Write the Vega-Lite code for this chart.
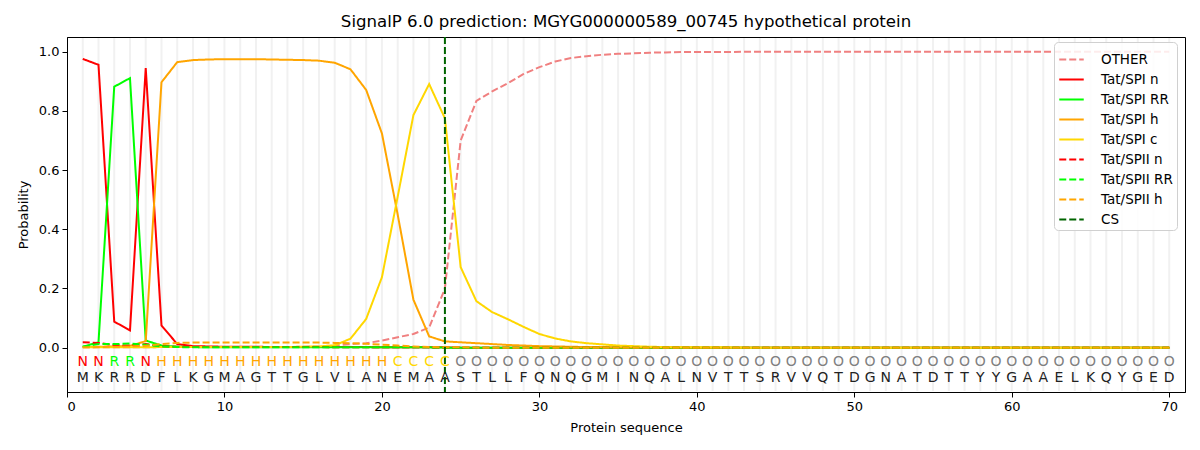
{
  "$schema": "https://vega.github.io/schema/vega-lite/v6.json",
  "title": {
    "text": "SignalP 6.0 prediction: MGYG000000589_00745 hypothetical protein",
    "font": "DejaVu Sans",
    "fontSize": 16.6,
    "fontWeight": "normal",
    "color": "black",
    "offset": 5
  },
  "width": 1118,
  "height": 355,
  "autosize": {"type": "none"},
  "padding": {"left": 67, "top": 37, "right": 15, "bottom": 58},
  "datasets": {
    "sequence": [
      {"pos": 1, "aa": "M", "label": "N"}, {"pos": 2, "aa": "K", "label": "N"},
      {"pos": 3, "aa": "R", "label": "R"}, {"pos": 4, "aa": "R", "label": "R"},
      {"pos": 5, "aa": "D", "label": "N"}, {"pos": 6, "aa": "F", "label": "H"},
      {"pos": 7, "aa": "L", "label": "H"}, {"pos": 8, "aa": "K", "label": "H"},
      {"pos": 9, "aa": "G", "label": "H"}, {"pos": 10, "aa": "M", "label": "H"},
      {"pos": 11, "aa": "A", "label": "H"}, {"pos": 12, "aa": "G", "label": "H"},
      {"pos": 13, "aa": "T", "label": "H"}, {"pos": 14, "aa": "T", "label": "H"},
      {"pos": 15, "aa": "G", "label": "H"}, {"pos": 16, "aa": "L", "label": "H"},
      {"pos": 17, "aa": "V", "label": "H"}, {"pos": 18, "aa": "L", "label": "H"},
      {"pos": 19, "aa": "A", "label": "H"}, {"pos": 20, "aa": "N", "label": "H"},
      {"pos": 21, "aa": "E", "label": "C"}, {"pos": 22, "aa": "M", "label": "C"},
      {"pos": 23, "aa": "A", "label": "C"}, {"pos": 24, "aa": "A", "label": "C"},
      {"pos": 25, "aa": "S", "label": "O"}, {"pos": 26, "aa": "T", "label": "O"},
      {"pos": 27, "aa": "L", "label": "O"}, {"pos": 28, "aa": "L", "label": "O"},
      {"pos": 29, "aa": "F", "label": "O"}, {"pos": 30, "aa": "Q", "label": "O"},
      {"pos": 31, "aa": "N", "label": "O"}, {"pos": 32, "aa": "Q", "label": "O"},
      {"pos": 33, "aa": "G", "label": "O"}, {"pos": 34, "aa": "M", "label": "O"},
      {"pos": 35, "aa": "I", "label": "O"}, {"pos": 36, "aa": "N", "label": "O"},
      {"pos": 37, "aa": "Q", "label": "O"}, {"pos": 38, "aa": "A", "label": "O"},
      {"pos": 39, "aa": "L", "label": "O"}, {"pos": 40, "aa": "N", "label": "O"},
      {"pos": 41, "aa": "V", "label": "O"}, {"pos": 42, "aa": "T", "label": "O"},
      {"pos": 43, "aa": "T", "label": "O"}, {"pos": 44, "aa": "S", "label": "O"},
      {"pos": 45, "aa": "R", "label": "O"}, {"pos": 46, "aa": "V", "label": "O"},
      {"pos": 47, "aa": "V", "label": "O"}, {"pos": 48, "aa": "Q", "label": "O"},
      {"pos": 49, "aa": "T", "label": "O"}, {"pos": 50, "aa": "D", "label": "O"},
      {"pos": 51, "aa": "G", "label": "O"}, {"pos": 52, "aa": "N", "label": "O"},
      {"pos": 53, "aa": "A", "label": "O"}, {"pos": 54, "aa": "T", "label": "O"},
      {"pos": 55, "aa": "D", "label": "O"}, {"pos": 56, "aa": "T", "label": "O"},
      {"pos": 57, "aa": "T", "label": "O"}, {"pos": 58, "aa": "Y", "label": "O"},
      {"pos": 59, "aa": "Y", "label": "O"}, {"pos": 60, "aa": "G", "label": "O"},
      {"pos": 61, "aa": "A", "label": "O"}, {"pos": 62, "aa": "A", "label": "O"},
      {"pos": 63, "aa": "E", "label": "O"}, {"pos": 64, "aa": "L", "label": "O"},
      {"pos": 65, "aa": "K", "label": "O"}, {"pos": 66, "aa": "Q", "label": "O"},
      {"pos": 67, "aa": "Y", "label": "O"}, {"pos": 68, "aa": "G", "label": "O"},
      {"pos": 69, "aa": "E", "label": "O"}, {"pos": 70, "aa": "D", "label": "O"}
    ],
    "probs": [
      {"pos": 1, "OTHER": 0.001, "Tat/SPI n": 0.976, "Tat/SPI RR": 0.003, "Tat/SPI h": 0.002, "Tat/SPI c": 0.001, "Tat/SPII n": 0.018, "Tat/SPII RR": 0.003, "Tat/SPII h": 0.001},
      {"pos": 2, "OTHER": 0.001, "Tat/SPI n": 0.956, "Tat/SPI RR": 0.018, "Tat/SPI h": 0.003, "Tat/SPI c": 0.001, "Tat/SPII n": 0.016, "Tat/SPII RR": 0.012, "Tat/SPII h": 0.002},
      {"pos": 3, "OTHER": 0.001, "Tat/SPI n": 0.088, "Tat/SPI RR": 0.882, "Tat/SPI h": 0.004, "Tat/SPI c": 0.001, "Tat/SPII n": 0.008, "Tat/SPII RR": 0.012, "Tat/SPII h": 0.003},
      {"pos": 4, "OTHER": 0.001, "Tat/SPI n": 0.058, "Tat/SPI RR": 0.911, "Tat/SPI h": 0.006, "Tat/SPI c": 0.001, "Tat/SPII n": 0.007, "Tat/SPII RR": 0.014, "Tat/SPII h": 0.004},
      {"pos": 5, "OTHER": 0.001, "Tat/SPI n": 0.945, "Tat/SPI RR": 0.024, "Tat/SPI h": 0.022, "Tat/SPI c": 0.001, "Tat/SPII n": 0.012, "Tat/SPII RR": 0.010, "Tat/SPII h": 0.006},
      {"pos": 6, "OTHER": 0.002, "Tat/SPI n": 0.075, "Tat/SPI RR": 0.007, "Tat/SPI h": 0.897, "Tat/SPI c": 0.002, "Tat/SPII n": 0.005, "Tat/SPII RR": 0.004, "Tat/SPII h": 0.012},
      {"pos": 7, "OTHER": 0.002, "Tat/SPI n": 0.012, "Tat/SPI RR": 0.003, "Tat/SPI h": 0.965, "Tat/SPI c": 0.002, "Tat/SPII n": 0.003, "Tat/SPII RR": 0.002, "Tat/SPII h": 0.016},
      {"pos": 8, "OTHER": 0.002, "Tat/SPI n": 0.005, "Tat/SPI RR": 0.002, "Tat/SPI h": 0.972, "Tat/SPI c": 0.002, "Tat/SPII n": 0.002, "Tat/SPII RR": 0.001, "Tat/SPII h": 0.017},
      {"pos": 9, "OTHER": 0.002, "Tat/SPI n": 0.004, "Tat/SPI RR": 0.001, "Tat/SPI h": 0.974, "Tat/SPI c": 0.002, "Tat/SPII n": 0.002, "Tat/SPII RR": 0.001, "Tat/SPII h": 0.017},
      {"pos": 10, "OTHER": 0.002, "Tat/SPI n": 0.003, "Tat/SPI RR": 0.001, "Tat/SPI h": 0.975, "Tat/SPI c": 0.002, "Tat/SPII n": 0.002, "Tat/SPII RR": 0.001, "Tat/SPII h": 0.017},
      {"pos": 11, "OTHER": 0.002, "Tat/SPI n": 0.003, "Tat/SPI RR": 0.001, "Tat/SPI h": 0.975, "Tat/SPI c": 0.002, "Tat/SPII n": 0.002, "Tat/SPII RR": 0.001, "Tat/SPII h": 0.017},
      {"pos": 12, "OTHER": 0.002, "Tat/SPI n": 0.003, "Tat/SPI RR": 0.001, "Tat/SPI h": 0.975, "Tat/SPI c": 0.002, "Tat/SPII n": 0.002, "Tat/SPII RR": 0.001, "Tat/SPII h": 0.017},
      {"pos": 13, "OTHER": 0.002, "Tat/SPI n": 0.002, "Tat/SPI RR": 0.001, "Tat/SPI h": 0.974, "Tat/SPI c": 0.002, "Tat/SPII n": 0.002, "Tat/SPII RR": 0.001, "Tat/SPII h": 0.017},
      {"pos": 14, "OTHER": 0.002, "Tat/SPI n": 0.002, "Tat/SPI RR": 0.001, "Tat/SPI h": 0.973, "Tat/SPI c": 0.002, "Tat/SPII n": 0.002, "Tat/SPII RR": 0.001, "Tat/SPII h": 0.017},
      {"pos": 15, "OTHER": 0.003, "Tat/SPI n": 0.002, "Tat/SPI RR": 0.001, "Tat/SPI h": 0.972, "Tat/SPI c": 0.003, "Tat/SPII n": 0.002, "Tat/SPII RR": 0.001, "Tat/SPII h": 0.017},
      {"pos": 16, "OTHER": 0.004, "Tat/SPI n": 0.002, "Tat/SPI RR": 0.001, "Tat/SPI h": 0.970, "Tat/SPI c": 0.004, "Tat/SPII n": 0.002, "Tat/SPII RR": 0.001, "Tat/SPII h": 0.017},
      {"pos": 17, "OTHER": 0.007, "Tat/SPI n": 0.002, "Tat/SPI RR": 0.001, "Tat/SPI h": 0.963, "Tat/SPI c": 0.008, "Tat/SPII n": 0.001, "Tat/SPII RR": 0.001, "Tat/SPII h": 0.016},
      {"pos": 18, "OTHER": 0.012, "Tat/SPI n": 0.002, "Tat/SPI RR": 0.001, "Tat/SPI h": 0.941, "Tat/SPI c": 0.030, "Tat/SPII n": 0.001, "Tat/SPII RR": 0.001, "Tat/SPII h": 0.015},
      {"pos": 19, "OTHER": 0.015, "Tat/SPI n": 0.002, "Tat/SPI RR": 0.001, "Tat/SPI h": 0.871, "Tat/SPI c": 0.097, "Tat/SPII n": 0.001, "Tat/SPII RR": 0.001, "Tat/SPII h": 0.013},
      {"pos": 20, "OTHER": 0.024, "Tat/SPI n": 0.001, "Tat/SPI RR": 0.001, "Tat/SPI h": 0.724, "Tat/SPI c": 0.238, "Tat/SPII n": 0.001, "Tat/SPII RR": 0.001, "Tat/SPII h": 0.010},
      {"pos": 21, "OTHER": 0.035, "Tat/SPI n": 0.001, "Tat/SPI RR": 0.001, "Tat/SPI h": 0.450, "Tat/SPI c": 0.510, "Tat/SPII n": 0.001, "Tat/SPII RR": 0.001, "Tat/SPII h": 0.007},
      {"pos": 22, "OTHER": 0.046, "Tat/SPI n": 0.001, "Tat/SPI RR": 0.001, "Tat/SPI h": 0.162, "Tat/SPI c": 0.786, "Tat/SPII n": 0.001, "Tat/SPII RR": 0.001, "Tat/SPII h": 0.004},
      {"pos": 23, "OTHER": 0.068, "Tat/SPI n": 0.001, "Tat/SPI RR": 0.001, "Tat/SPI h": 0.038, "Tat/SPI c": 0.891, "Tat/SPII n": 0.001, "Tat/SPII RR": 0.001, "Tat/SPII h": 0.002},
      {"pos": 24, "OTHER": 0.200, "Tat/SPI n": 0.001, "Tat/SPI RR": 0.0, "Tat/SPI h": 0.021, "Tat/SPI c": 0.775, "Tat/SPII n": 0.0, "Tat/SPII RR": 0.0, "Tat/SPII h": 0.001},
      {"pos": 25, "OTHER": 0.700, "Tat/SPI n": 0.0, "Tat/SPI RR": 0.0, "Tat/SPI h": 0.018, "Tat/SPI c": 0.272, "Tat/SPII n": 0.0, "Tat/SPII RR": 0.0, "Tat/SPII h": 0.001},
      {"pos": 26, "OTHER": 0.834, "Tat/SPI n": 0.0, "Tat/SPI RR": 0.0, "Tat/SPI h": 0.015, "Tat/SPI c": 0.157, "Tat/SPII n": 0.0, "Tat/SPII RR": 0.0, "Tat/SPII h": 0.0},
      {"pos": 27, "OTHER": 0.866, "Tat/SPI n": 0.0, "Tat/SPI RR": 0.0, "Tat/SPI h": 0.012, "Tat/SPI c": 0.120, "Tat/SPII n": 0.0, "Tat/SPII RR": 0.0, "Tat/SPII h": 0.0},
      {"pos": 28, "OTHER": 0.894, "Tat/SPI n": 0.0, "Tat/SPI RR": 0.0, "Tat/SPI h": 0.009, "Tat/SPI c": 0.096, "Tat/SPII n": 0.0, "Tat/SPII RR": 0.0, "Tat/SPII h": 0.0},
      {"pos": 29, "OTHER": 0.925, "Tat/SPI n": 0.0, "Tat/SPI RR": 0.0, "Tat/SPI h": 0.007, "Tat/SPI c": 0.070, "Tat/SPII n": 0.0, "Tat/SPII RR": 0.0, "Tat/SPII h": 0.0},
      {"pos": 30, "OTHER": 0.948, "Tat/SPI n": 0.0, "Tat/SPI RR": 0.0, "Tat/SPI h": 0.005, "Tat/SPI c": 0.046, "Tat/SPII n": 0.0, "Tat/SPII RR": 0.0, "Tat/SPII h": 0.0},
      {"pos": 31, "OTHER": 0.967, "Tat/SPI n": 0.0, "Tat/SPI RR": 0.0, "Tat/SPI h": 0.004, "Tat/SPI c": 0.031, "Tat/SPII n": 0.0, "Tat/SPII RR": 0.0, "Tat/SPII h": 0.0},
      {"pos": 32, "OTHER": 0.979, "Tat/SPI n": 0.0, "Tat/SPI RR": 0.0, "Tat/SPI h": 0.003, "Tat/SPI c": 0.021, "Tat/SPII n": 0.0, "Tat/SPII RR": 0.0, "Tat/SPII h": 0.0},
      {"pos": 33, "OTHER": 0.985, "Tat/SPI n": 0.0, "Tat/SPI RR": 0.0, "Tat/SPI h": 0.002, "Tat/SPI c": 0.015, "Tat/SPII n": 0.0, "Tat/SPII RR": 0.0, "Tat/SPII h": 0.0},
      {"pos": 34, "OTHER": 0.990, "Tat/SPI n": 0.0, "Tat/SPI RR": 0.0, "Tat/SPI h": 0.002, "Tat/SPI c": 0.011, "Tat/SPII n": 0.0, "Tat/SPII RR": 0.0, "Tat/SPII h": 0.0},
      {"pos": 35, "OTHER": 0.993, "Tat/SPI n": 0.0, "Tat/SPI RR": 0.0, "Tat/SPI h": 0.001, "Tat/SPI c": 0.007, "Tat/SPII n": 0.0, "Tat/SPII RR": 0.0, "Tat/SPII h": 0.0},
      {"pos": 36, "OTHER": 0.995, "Tat/SPI n": 0.0, "Tat/SPI RR": 0.0, "Tat/SPI h": 0.001, "Tat/SPI c": 0.005, "Tat/SPII n": 0.0, "Tat/SPII RR": 0.0, "Tat/SPII h": 0.0},
      {"pos": 37, "OTHER": 0.997, "Tat/SPI n": 0.0, "Tat/SPI RR": 0.0, "Tat/SPI h": 0.001, "Tat/SPI c": 0.003, "Tat/SPII n": 0.0, "Tat/SPII RR": 0.0, "Tat/SPII h": 0.0},
      {"pos": 38, "OTHER": 0.998, "Tat/SPI n": 0.0, "Tat/SPI RR": 0.0, "Tat/SPI h": 0.001, "Tat/SPI c": 0.002, "Tat/SPII n": 0.0, "Tat/SPII RR": 0.0, "Tat/SPII h": 0.0},
      {"pos": 39, "OTHER": 0.999, "Tat/SPI n": 0.0, "Tat/SPI RR": 0.0, "Tat/SPI h": 0.001, "Tat/SPI c": 0.001, "Tat/SPII n": 0.0, "Tat/SPII RR": 0.0, "Tat/SPII h": 0.0},
      {"pos": 40, "OTHER": 0.999, "Tat/SPI n": 0.0, "Tat/SPI RR": 0.0, "Tat/SPI h": 0.0, "Tat/SPI c": 0.001, "Tat/SPII n": 0.0, "Tat/SPII RR": 0.0, "Tat/SPII h": 0.0},
      {"pos": 41, "OTHER": 0.999, "Tat/SPI n": 0.0, "Tat/SPI RR": 0.0, "Tat/SPI h": 0.0, "Tat/SPI c": 0.001, "Tat/SPII n": 0.0, "Tat/SPII RR": 0.0, "Tat/SPII h": 0.0},
      {"pos": 42, "OTHER": 0.999, "Tat/SPI n": 0.0, "Tat/SPI RR": 0.0, "Tat/SPI h": 0.0, "Tat/SPI c": 0.001, "Tat/SPII n": 0.0, "Tat/SPII RR": 0.0, "Tat/SPII h": 0.0},
      {"pos": 43, "OTHER": 1.0, "Tat/SPI n": 0.0, "Tat/SPI RR": 0.0, "Tat/SPI h": 0.0, "Tat/SPI c": 0.0, "Tat/SPII n": 0.0, "Tat/SPII RR": 0.0, "Tat/SPII h": 0.0},
      {"pos": 44, "OTHER": 1.0, "Tat/SPI n": 0.0, "Tat/SPI RR": 0.0, "Tat/SPI h": 0.0, "Tat/SPI c": 0.0, "Tat/SPII n": 0.0, "Tat/SPII RR": 0.0, "Tat/SPII h": 0.0},
      {"pos": 45, "OTHER": 1.0, "Tat/SPI n": 0.0, "Tat/SPI RR": 0.0, "Tat/SPI h": 0.0, "Tat/SPI c": 0.0, "Tat/SPII n": 0.0, "Tat/SPII RR": 0.0, "Tat/SPII h": 0.0},
      {"pos": 46, "OTHER": 1.0, "Tat/SPI n": 0.0, "Tat/SPI RR": 0.0, "Tat/SPI h": 0.0, "Tat/SPI c": 0.0, "Tat/SPII n": 0.0, "Tat/SPII RR": 0.0, "Tat/SPII h": 0.0},
      {"pos": 47, "OTHER": 1.0, "Tat/SPI n": 0.0, "Tat/SPI RR": 0.0, "Tat/SPI h": 0.0, "Tat/SPI c": 0.0, "Tat/SPII n": 0.0, "Tat/SPII RR": 0.0, "Tat/SPII h": 0.0},
      {"pos": 48, "OTHER": 1.0, "Tat/SPI n": 0.0, "Tat/SPI RR": 0.0, "Tat/SPI h": 0.0, "Tat/SPI c": 0.0, "Tat/SPII n": 0.0, "Tat/SPII RR": 0.0, "Tat/SPII h": 0.0},
      {"pos": 49, "OTHER": 1.0, "Tat/SPI n": 0.0, "Tat/SPI RR": 0.0, "Tat/SPI h": 0.0, "Tat/SPI c": 0.0, "Tat/SPII n": 0.0, "Tat/SPII RR": 0.0, "Tat/SPII h": 0.0},
      {"pos": 50, "OTHER": 1.0, "Tat/SPI n": 0.0, "Tat/SPI RR": 0.0, "Tat/SPI h": 0.0, "Tat/SPI c": 0.0, "Tat/SPII n": 0.0, "Tat/SPII RR": 0.0, "Tat/SPII h": 0.0},
      {"pos": 51, "OTHER": 1.0, "Tat/SPI n": 0.0, "Tat/SPI RR": 0.0, "Tat/SPI h": 0.0, "Tat/SPI c": 0.0, "Tat/SPII n": 0.0, "Tat/SPII RR": 0.0, "Tat/SPII h": 0.0},
      {"pos": 52, "OTHER": 1.0, "Tat/SPI n": 0.0, "Tat/SPI RR": 0.0, "Tat/SPI h": 0.0, "Tat/SPI c": 0.0, "Tat/SPII n": 0.0, "Tat/SPII RR": 0.0, "Tat/SPII h": 0.0},
      {"pos": 53, "OTHER": 1.0, "Tat/SPI n": 0.0, "Tat/SPI RR": 0.0, "Tat/SPI h": 0.0, "Tat/SPI c": 0.0, "Tat/SPII n": 0.0, "Tat/SPII RR": 0.0, "Tat/SPII h": 0.0},
      {"pos": 54, "OTHER": 1.0, "Tat/SPI n": 0.0, "Tat/SPI RR": 0.0, "Tat/SPI h": 0.0, "Tat/SPI c": 0.0, "Tat/SPII n": 0.0, "Tat/SPII RR": 0.0, "Tat/SPII h": 0.0},
      {"pos": 55, "OTHER": 1.0, "Tat/SPI n": 0.0, "Tat/SPI RR": 0.0, "Tat/SPI h": 0.0, "Tat/SPI c": 0.0, "Tat/SPII n": 0.0, "Tat/SPII RR": 0.0, "Tat/SPII h": 0.0},
      {"pos": 56, "OTHER": 1.0, "Tat/SPI n": 0.0, "Tat/SPI RR": 0.0, "Tat/SPI h": 0.0, "Tat/SPI c": 0.0, "Tat/SPII n": 0.0, "Tat/SPII RR": 0.0, "Tat/SPII h": 0.0},
      {"pos": 57, "OTHER": 1.0, "Tat/SPI n": 0.0, "Tat/SPI RR": 0.0, "Tat/SPI h": 0.0, "Tat/SPI c": 0.0, "Tat/SPII n": 0.0, "Tat/SPII RR": 0.0, "Tat/SPII h": 0.0},
      {"pos": 58, "OTHER": 1.0, "Tat/SPI n": 0.0, "Tat/SPI RR": 0.0, "Tat/SPI h": 0.0, "Tat/SPI c": 0.0, "Tat/SPII n": 0.0, "Tat/SPII RR": 0.0, "Tat/SPII h": 0.0},
      {"pos": 59, "OTHER": 1.0, "Tat/SPI n": 0.0, "Tat/SPI RR": 0.0, "Tat/SPI h": 0.0, "Tat/SPI c": 0.0, "Tat/SPII n": 0.0, "Tat/SPII RR": 0.0, "Tat/SPII h": 0.0},
      {"pos": 60, "OTHER": 1.0, "Tat/SPI n": 0.0, "Tat/SPI RR": 0.0, "Tat/SPI h": 0.0, "Tat/SPI c": 0.0, "Tat/SPII n": 0.0, "Tat/SPII RR": 0.0, "Tat/SPII h": 0.0},
      {"pos": 61, "OTHER": 1.0, "Tat/SPI n": 0.0, "Tat/SPI RR": 0.0, "Tat/SPI h": 0.0, "Tat/SPI c": 0.0, "Tat/SPII n": 0.0, "Tat/SPII RR": 0.0, "Tat/SPII h": 0.0},
      {"pos": 62, "OTHER": 1.0, "Tat/SPI n": 0.0, "Tat/SPI RR": 0.0, "Tat/SPI h": 0.0, "Tat/SPI c": 0.0, "Tat/SPII n": 0.0, "Tat/SPII RR": 0.0, "Tat/SPII h": 0.0},
      {"pos": 63, "OTHER": 1.0, "Tat/SPI n": 0.0, "Tat/SPI RR": 0.0, "Tat/SPI h": 0.0, "Tat/SPI c": 0.0, "Tat/SPII n": 0.0, "Tat/SPII RR": 0.0, "Tat/SPII h": 0.0},
      {"pos": 64, "OTHER": 1.0, "Tat/SPI n": 0.0, "Tat/SPI RR": 0.0, "Tat/SPI h": 0.0, "Tat/SPI c": 0.0, "Tat/SPII n": 0.0, "Tat/SPII RR": 0.0, "Tat/SPII h": 0.0},
      {"pos": 65, "OTHER": 1.0, "Tat/SPI n": 0.0, "Tat/SPI RR": 0.0, "Tat/SPI h": 0.0, "Tat/SPI c": 0.0, "Tat/SPII n": 0.0, "Tat/SPII RR": 0.0, "Tat/SPII h": 0.0},
      {"pos": 66, "OTHER": 1.0, "Tat/SPI n": 0.0, "Tat/SPI RR": 0.0, "Tat/SPI h": 0.0, "Tat/SPI c": 0.0, "Tat/SPII n": 0.0, "Tat/SPII RR": 0.0, "Tat/SPII h": 0.0},
      {"pos": 67, "OTHER": 1.0, "Tat/SPI n": 0.0, "Tat/SPI RR": 0.0, "Tat/SPI h": 0.0, "Tat/SPI c": 0.0, "Tat/SPII n": 0.0, "Tat/SPII RR": 0.0, "Tat/SPII h": 0.0},
      {"pos": 68, "OTHER": 1.0, "Tat/SPI n": 0.0, "Tat/SPI RR": 0.0, "Tat/SPI h": 0.0, "Tat/SPI c": 0.0, "Tat/SPII n": 0.0, "Tat/SPII RR": 0.0, "Tat/SPII h": 0.0},
      {"pos": 69, "OTHER": 1.0, "Tat/SPI n": 0.0, "Tat/SPI RR": 0.0, "Tat/SPI h": 0.0, "Tat/SPI c": 0.0, "Tat/SPII n": 0.0, "Tat/SPII RR": 0.0, "Tat/SPII h": 0.0},
      {"pos": 70, "OTHER": 1.0, "Tat/SPI n": 0.0, "Tat/SPI RR": 0.0, "Tat/SPI h": 0.0, "Tat/SPI c": 0.0, "Tat/SPII n": 0.0, "Tat/SPII RR": 0.0, "Tat/SPII h": 0.0}
    ],
    "cleavage": [{"pos": 24, "series": "CS"}]
  },
  "layer": [
    {
      "data": {"name": "sequence"},
      "mark": {"type": "rule", "color": "#f1f1f1", "strokeWidth": 2},
      "encoding": {
        "x": {"field": "pos", "type": "quantitative"},
        "y": {"datum": 1.047},
        "y2": {"datum": -0.147}
      }
    },
    {
      "data": {"name": "probs"},
      "transform": [
        {"fold": ["OTHER", "Tat/SPI n", "Tat/SPI RR", "Tat/SPI h", "Tat/SPI c", "Tat/SPII n", "Tat/SPII RR", "Tat/SPII h"], "as": ["series", "p"]}
      ],
      "mark": {"type": "line", "strokeWidth": 2, "clip": true},
      "encoding": {
        "x": {"field": "pos", "type": "quantitative"},
        "y": {"field": "p", "type": "quantitative"},
        "color": {
          "field": "series",
          "type": "nominal",
          "scale": {
            "domain": ["OTHER", "Tat/SPI n", "Tat/SPI RR", "Tat/SPI h", "Tat/SPI c", "Tat/SPII n", "Tat/SPII RR", "Tat/SPII h", "CS"],
            "range": ["#f08080", "#ff0000", "#00ff00", "#ffa500", "#ffd700", "#ff0000", "#00ff00", "#ffa500", "#006400"]
          },
          "legend": {"title": null}
        },
        "strokeDash": {
          "field": "series",
          "type": "nominal",
          "scale": {
            "domain": ["OTHER", "Tat/SPI n", "Tat/SPI RR", "Tat/SPI h", "Tat/SPI c", "Tat/SPII n", "Tat/SPII RR", "Tat/SPII h", "CS"],
            "range": [[7, 3], [1, 0], [1, 0], [1, 0], [1, 0], [7, 3], [7, 3], [7, 3], [7, 3]]
          },
          "legend": {"title": null}
        }
      }
    },
    {
      "data": {"name": "cleavage"},
      "mark": {"type": "rule", "strokeWidth": 2},
      "encoding": {
        "x": {"field": "pos", "type": "quantitative"},
        "color": {"field": "series", "type": "nominal"},
        "strokeDash": {"field": "series", "type": "nominal"}
      }
    },
    {
      "data": {"name": "sequence"},
      "transform": [{"filter": "datum.label === 'N'"}],
      "mark": {"type": "text", "fontSize": 14, "font": "DejaVu Sans", "baseline": "middle", "color": "#ff0000"},
      "encoding": {"x": {"field": "pos", "type": "quantitative"}, "y": {"datum": -0.047}, "text": {"field": "label"}}
    },
    {
      "data": {"name": "sequence"},
      "transform": [{"filter": "datum.label === 'R'"}],
      "mark": {"type": "text", "fontSize": 14, "font": "DejaVu Sans", "baseline": "middle", "color": "#00ff00"},
      "encoding": {"x": {"field": "pos", "type": "quantitative"}, "y": {"datum": -0.047}, "text": {"field": "label"}}
    },
    {
      "data": {"name": "sequence"},
      "transform": [{"filter": "datum.label === 'H'"}],
      "mark": {"type": "text", "fontSize": 14, "font": "DejaVu Sans", "baseline": "middle", "color": "#ffa500"},
      "encoding": {"x": {"field": "pos", "type": "quantitative"}, "y": {"datum": -0.047}, "text": {"field": "label"}}
    },
    {
      "data": {"name": "sequence"},
      "transform": [{"filter": "datum.label === 'C'"}],
      "mark": {"type": "text", "fontSize": 14, "font": "DejaVu Sans", "baseline": "middle", "color": "#ffd700"},
      "encoding": {"x": {"field": "pos", "type": "quantitative"}, "y": {"datum": -0.047}, "text": {"field": "label"}}
    },
    {
      "data": {"name": "sequence"},
      "transform": [{"filter": "datum.label === 'O'"}],
      "mark": {"type": "text", "fontSize": 14, "font": "DejaVu Sans", "baseline": "middle", "color": "#808080"},
      "encoding": {"x": {"field": "pos", "type": "quantitative"}, "y": {"datum": -0.047}, "text": {"field": "label"}}
    },
    {
      "data": {"name": "sequence"},
      "mark": {"type": "text", "fontSize": 14, "font": "DejaVu Sans", "baseline": "middle", "color": "#222222"},
      "encoding": {"x": {"field": "pos", "type": "quantitative"}, "y": {"datum": -0.102}, "text": {"field": "aa"}}
    }
  ],
  "encoding": {
    "x": {
      "field": "pos",
      "type": "quantitative",
      "title": "Protein sequence",
      "scale": {"domain": [0, 71], "nice": false, "zero": false},
      "axis": {"values": [0, 10, 20, 30, 40, 50, 60, 70], "grid": false}
    },
    "y": {
      "type": "quantitative",
      "title": "Probability",
      "scale": {"domain": [-0.15, 1.05], "nice": false, "zero": false},
      "axis": {"values": [0, 0.2, 0.4, 0.6, 0.8, 1.0], "format": ".1f", "grid": false}
    }
  },
  "config": {
    "font": "DejaVu Sans",
    "view": {"stroke": "black", "strokeWidth": 1},
    "axis": {
      "domainColor": "black",
      "tickColor": "black",
      "tickSize": 5,
      "labelColor": "black",
      "labelFontSize": 13,
      "labelFont": "DejaVu Sans",
      "titleFont": "DejaVu Sans",
      "titleFontSize": 13,
      "titleFontWeight": "normal",
      "titleColor": "black",
      "labelPadding": 3
    },
    "axisX": {"titlePadding": 8},
    "axisY": {"titlePadding": 8},
    "legend": {
      "orient": "none",
      "legendX": 987,
      "legendY": 5,
      "symbolType": "stroke",
      "symbolStrokeWidth": 2,
      "symbolSize": 600,
      "rowPadding": -2,
      "labelFontSize": 13.5,
      "labelFont": "DejaVu Sans",
      "labelColor": "black",
      "labelOffset": 16,
      "padding": 4,
      "strokeColor": "#d0d0d0",
      "fillColor": "rgba(255,255,255,0.85)",
      "cornerRadius": 4
    }
  }
}
